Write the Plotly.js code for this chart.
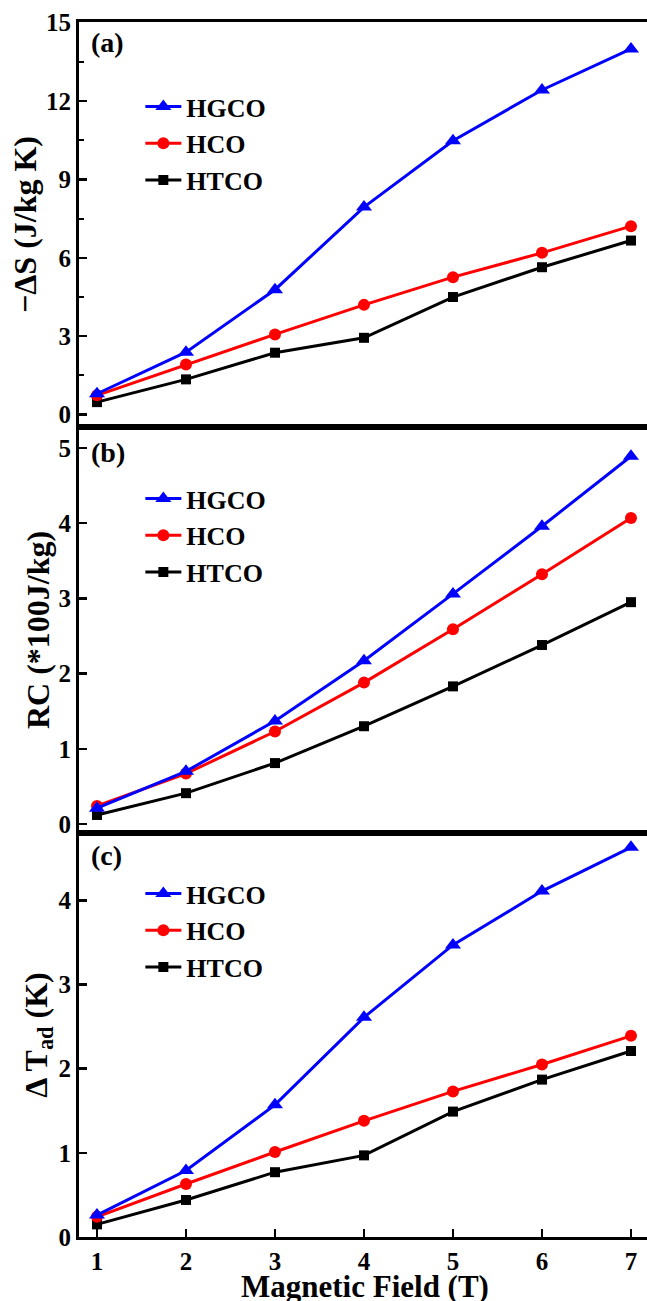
<!DOCTYPE html>
<html>
<head>
<meta charset="utf-8">
<script src="https://cdn.plot.ly/plotly-3.0.1.min.js"></script>
<style>html,body{margin:0;padding:0;background:#fff;}#chart{width:647px;height:1301px;}</style>
</head>
<body>
<div id="chart"></div>
<script>
// Data
var field = [1, 2, 3, 4, 5, 6, 7];
var seriesNames = ['HGCO', 'HCO', 'HTCO'];
// (a) -ΔS (J/kg K)
var dsHGCO = [0.80, 2.39, 4.78, 7.94, 10.48, 12.42, 13.99];
var dsHCO  = [0.74, 1.92, 3.07, 4.20, 5.26, 6.19, 7.21];
var dsHTCO = [0.48, 1.35, 2.37, 2.94, 4.50, 5.64, 6.66];
// (b) RC (*100 J/kg)
var rcHGCO = [0.21, 0.70, 1.37, 2.17, 3.06, 3.96, 4.89];
var rcHCO  = [0.24, 0.67, 1.23, 1.88, 2.59, 3.32, 4.07];
var rcHTCO = [0.12, 0.41, 0.81, 1.30, 1.83, 2.38, 2.95];
// (c) ΔT_ad (K)
var dtHGCO = [0.26, 0.79, 1.57, 2.61, 3.47, 4.11, 4.63];
var dtHCO  = [0.24, 0.63, 1.01, 1.38, 1.73, 2.05, 2.39];
var dtHTCO = [0.15, 0.44, 0.77, 0.97, 1.49, 1.87, 2.21];
var xTicks = [1, 2, 3, 4, 5, 6, 7];
var panelLabels = ['(a)', '(b)', '(c)'];
var xTitle = 'Magnetic Field (T)';

var FONT = 'Liberation Serif, Times New Roman, serif';
var colors = {HGCO: '#0000ff', HCO: '#ff0000', HTCO: '#000000'};
var symbols = {HGCO: 'triangle-up', HCO: 'circle', HTCO: 'square'};
var msize = {HGCO: 14, HCO: 12, HTCO: 10};

function mk(name, y, xa, ya, leg) {
  return {
    x: field, y: y, name: name, type: 'scatter', mode: 'lines+markers',
    xaxis: xa, yaxis: ya, legend: leg,
    line: {color: colors[name], width: 3},
    marker: {color: colors[name], symbol: symbols[name], size: msize[name]}
  };
}

var data = [
  mk('HTCO', dsHTCO, 'x3', 'y3', 'legend'),
  mk('HCO', dsHCO, 'x3', 'y3', 'legend'),
  mk('HGCO', dsHGCO, 'x3', 'y3', 'legend'),
  mk('HTCO', rcHTCO, 'x2', 'y2', 'legend2'),
  mk('HCO', rcHCO, 'x2', 'y2', 'legend2'),
  mk('HGCO', rcHGCO, 'x2', 'y2', 'legend2'),
  mk('HTCO', dtHTCO, 'x', 'y', 'legend3'),
  mk('HCO', dtHCO, 'x', 'y', 'legend3'),
  mk('HGCO', dtHGCO, 'x', 'y', 'legend3')
];

var tickFont = {family: FONT, size: 25, color: '#000', weight: 700};
var xTitleFont = {family: FONT, size: 31, color: '#000', weight: 700};
var yTitleFont = {family: FONT, size: 32, color: '#000', weight: 700};
var legFont = {family: FONT, size: 26, color: '#000', weight: 700};
var xr = [0.798, 7.18];

function xax(anchor, showLabels) {
  var a = {
    anchor: anchor, range: xr, showline: true, mirror: true, linecolor: '#000', linewidth: 3,
    showgrid: false, zeroline: false, tickvals: xTicks, fixedrange: true
  };
  if (showLabels) {
    a.ticks = 'inside'; a.ticklen = 8; a.tickwidth = 2.5; a.tickcolor = '#000';
    a.tickfont = tickFont; a.showticklabels = true;
  } else {
    a.ticks = ''; a.showticklabels = false;
  }
  return a;
}
function yax(anchor, domain, range, dtick, title, minor) {
  var a = {
    anchor: anchor, domain: domain, range: range, dtick: dtick, tick0: 0,
    showline: true, linecolor: '#000', linewidth: 3, showgrid: false, zeroline: false,
    ticks: 'inside', ticklen: 8, tickwidth: 2.5, tickcolor: '#000', tickfont: tickFont,
    title: {text: title, font: yTitleFont, standoff: 0}, fixedrange: true
  };
  if (minor) a.minor = {ticks: 'inside', dtick: minor, tick0: 0, ticklen: 5, tickwidth: 2, tickcolor: '#000'};
  return a;
}

function leg(y) {
  return {x: 0.108, y: y, xanchor: 'left', yanchor: 'top', font: legFont,
    traceorder: 'reversed', bgcolor: 'rgba(0,0,0,0)', itemwidth: 36, tracegroupgap: 0};
}

function lab(t, ypx) {
  return {text: t, xref: 'paper', yref: 'paper', x: (89 - 79) / 568, xanchor: 'left',
    y: (1237 - ypx) / 1215, yanchor: 'middle', showarrow: false,
    font: {family: FONT, size: 28, color: '#000', weight: 700}};
}

var layout = {
  width: 647, height: 1301,
  margin: {l: 79, r: 0, t: 22, b: 64},
  paper_bgcolor: '#fff', plot_bgcolor: '#fff',
  font: {family: FONT, color: '#000'},
  xaxis: xax('y', true),
  xaxis2: xax('y2', false),
  xaxis3: xax('y3', false),
  yaxis: yax('x', [0, 0.3325], [0, 4.8], 1, '\u0394 T<sub>ad</sub> (K)'),
  yaxis2: yax('x2', [0.3325, 0.6667], [-0.12, 5.28], 1, 'RC (*100J/kg)'),
  yaxis3: yax('x3', [0.6667, 1], [-0.47, 15.02], 3, '\u2212\u0394S (J/kg K)', 1.5),
  legend: leg((1237 - 83) / 1215),
  legend2: leg((1237 - 475) / 1215),
  legend3: leg((1237 - 870) / 1215),
  annotations: [
    lab(panelLabels[0], 43), lab(panelLabels[1], 452), lab(panelLabels[2], 855),
    {text: xTitle, xref: 'paper', yref: 'paper', x: (365 - 79) / 568, xanchor: 'center',
     y: (1237 - 1267) / 1215, yanchor: 'top', showarrow: false, font: xTitleFont}
  ],
  showlegend: true
};

Plotly.newPlot('chart', data, layout, {staticPlot: true, displayModeBar: false});
</script>
</body>
</html>
